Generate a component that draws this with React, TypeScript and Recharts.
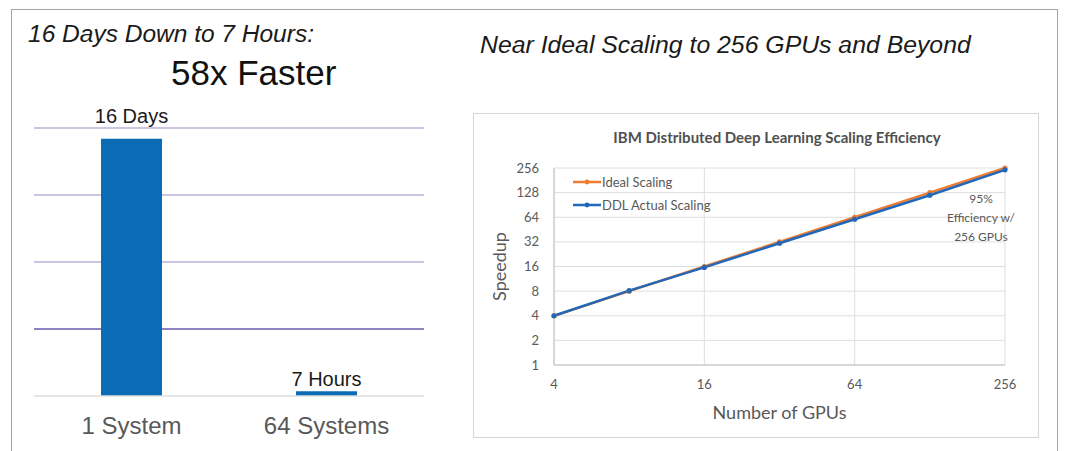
import React from 'react'
import {
  BarChart,
  Bar,
  LabelList,
  LineChart,
  Line,
  CartesianGrid,
  XAxis,
  YAxis,
  Legend,
  Label,
} from 'recharts'

// left panel: training time
const systems = ['1 System', '64 Systems']
const trainHours = [384, 7]
const timeLabels = ['16 Days', '7 Hours']
const hourTicks = [0, 100, 200, 300, 400]

// right panel: scaling
const gpuCounts = [4, 8, 16, 32, 64, 128, 256]
const idealSpeedup = [4, 8, 16, 32, 64, 128, 256]
const ddlSpeedup = [4, 8.1, 15.6, 30.8, 60.5, 119, 243]
const gpuTicks = [4, 16, 64, 256]
const speedupTicks = [1, 2, 4, 8, 16, 32, 64, 128, 256]
const seriesNames = ['Ideal Scaling', 'DDL Actual Scaling']

const timeData = systems.map((s, i) => ({ system: s, hours: trainHours[i], label: timeLabels[i] }))
const scaleData = gpuCounts.map((g, i) => ({ gpus: g, ideal: idealSpeedup[i], ddl: ddlSpeedup[i] }))

const ARIAL = '"Liberation Sans", Arial, sans-serif'
const CAL = 'Lato, "Open Sans", sans-serif'
const BLUE = '#2168ba'
const ORANGE = '#ed7d31'

const gridLine = (p: any) => {
  if (p.index === 0) return <g key={p.key} />
  const stroke = p.index === 1 ? '#8c84bf' : '#cbc5e3'
  return <line key={p.key} x1={p.x1} x2={p.x2} y1={p.y1} y2={p.y2} stroke={stroke} strokeWidth={2} />
}

const barLabel = (p: any) => {
  const { x, y, width, value, index } = p
  const lift = index === 0 ? 16 : 5
  return (
    <text x={x + width / 2} y={y - lift} textAnchor="middle" fontSize={20} fontFamily={ARIAL} fill="#1a1a1a">
      {value}
    </text>
  )
}

const legendBox = (props: any) => {
  const items = [...(props.payload || [])].sort((a: any, b: any) => seriesNames.indexOf(a.value) - seriesNames.indexOf(b.value))
  return (
    <div style={{ fontFamily: CAL, fontSize: 13, color: '#595959' }}>
      {items.map((e: any) => (
        <div key={e.value} style={{ display: 'flex', alignItems: 'center', height: 23 }}>
          <svg width={29} height={10}>
            <line x1={0} x2={28} y1={5} y2={5} stroke={e.color} strokeWidth={2.5} />
            <circle cx={14} cy={5} r={2.4} fill={e.color} />
          </svg>
          <span>{e.value}</span>
        </div>
      ))}
    </div>
  )
}

export default function App() {
  return (
    <div style={{ position: 'fixed', left: 0, top: 0, width: 1069, height: 451, background: '#fff', overflow: 'hidden' }}>
      <div style={{ position: 'absolute', left: 11, top: 9, width: 1047, height: 450, border: '1px solid #a6a6a6', borderBottom: 'none', boxSizing: 'border-box' }} />

      <div style={{ position: 'absolute', left: 28, top: 22, fontFamily: ARIAL, fontStyle: 'italic', fontSize: 24.5, lineHeight: 1, color: '#1a1a1a', whiteSpace: 'nowrap' }}>
        16 Days Down to 7 Hours:
      </div>
      <div style={{ position: 'absolute', left: 171, top: 55, fontFamily: ARIAL, fontSize: 35, lineHeight: 1, color: '#111', whiteSpace: 'nowrap' }}>
        58x Faster
      </div>
      <div style={{ position: 'absolute', left: 480, top: 33, fontFamily: ARIAL, fontStyle: 'italic', fontSize: 24.8, lineHeight: 1, color: '#1a1a1a', whiteSpace: 'nowrap' }}>
        Near Ideal Scaling to 256 GPUs and Beyond
      </div>

      <div style={{ position: 'absolute', left: 0, top: 0 }}>
        <BarChart width={440} height={451} data={timeData} margin={{ top: 128, right: 16, left: 34, bottom: 15 }}>
          <CartesianGrid vertical={false} horizontal={gridLine} />
          <YAxis hide domain={[0, 400]} ticks={hourTicks} />
          <XAxis
            dataKey="system"
            height={40}
            interval={0}
            tickLine={false}
            tickMargin={15}
            axisLine={{ stroke: '#dedede', strokeWidth: 1.5 }}
            tick={{ fontSize: 24, fill: '#595959', fontFamily: ARIAL }}
          />
          <Bar dataKey="hours" fill="#0b6cb5" barSize={61} isAnimationActive={false}>
            <LabelList dataKey="label" content={barLabel} />
          </Bar>
        </BarChart>
      </div>

      <div style={{ position: 'absolute', left: 473, top: 113, width: 566, height: 325, border: '1px solid #d6d6d6', boxSizing: 'border-box' }} />
      <div style={{ position: 'absolute', left: 587, top: 128, width: 380, textAlign: 'center', fontFamily: CAL, fontWeight: 700, fontSize: 15, lineHeight: '18px', color: '#505050', whiteSpace: 'nowrap' }}>
        IBM Distributed Deep Learning Scaling Efficiency
      </div>

      <div style={{ position: 'absolute', left: 473, top: 113 }}>
        <LineChart width={565} height={324} data={scaleData} margin={{ top: 55, right: 33, left: 31, bottom: 22 }}>
          <CartesianGrid stroke="#dedede" />
          <XAxis
            type="number"
            dataKey="gpus"
            scale="log"
            domain={[4, 256]}
            ticks={gpuTicks}
            height={50}
            tickLine={false}
            tickMargin={9}
            axisLine={{ stroke: '#bfbfbf' }}
            tick={{ fontSize: 13, fill: '#595959', fontFamily: CAL }}
          >
            <Label value="Number of GPUs" position="insideBottom" offset={-4} style={{ fontSize: 18, fill: '#595959', fontFamily: CAL }} />
          </XAxis>
          <YAxis
            type="number"
            scale="log"
            domain={[1, 256]}
            ticks={speedupTicks}
            width={50}
            tickLine={false}
            tickMargin={9}
            axisLine={{ stroke: '#bfbfbf' }}
            tick={{ fontSize: 13, fill: '#595959', fontFamily: CAL }}
          >
            <Label
              content={(p: any) => {
                const vb = p.viewBox || {}
                const cx = vb.x - 5
                const cy = vb.y + vb.height / 2
                return (
                  <text x={cx} y={cy} transform={`rotate(-90 ${cx} ${cy})`} textAnchor="middle" dominantBaseline="central" fontSize={18} fill="#595959" fontFamily={CAL}>
                    Speedup
                  </text>
                )
              }}
            />
          </YAxis>
          <Legend
            layout="vertical"
            align="center"
            verticalAlign="middle"
            content={legendBox}
            wrapperStyle={{ left: 100, top: 57, width: 'auto', height: 'auto' }}
          />
          <Line type="linear" dataKey="ideal" name={seriesNames[0]} stroke={ORANGE} strokeWidth={2.5} dot={{ r: 2.6, fill: ORANGE, strokeWidth: 0 }} isAnimationActive={false} />
          <Line type="linear" dataKey="ddl" name={seriesNames[1]} stroke={BLUE} strokeWidth={2.5} dot={{ r: 2.6, fill: BLUE, strokeWidth: 0 }} isAnimationActive={false} />
        </LineChart>
      </div>

      <div style={{ position: 'absolute', left: 931, top: 189, width: 100, textAlign: 'center', fontFamily: CAL, fontSize: 12, lineHeight: '19px', color: '#595959' }}>
        95%<br />Efficiency w/<br />256 GPUs
      </div>
    </div>
  )
}
